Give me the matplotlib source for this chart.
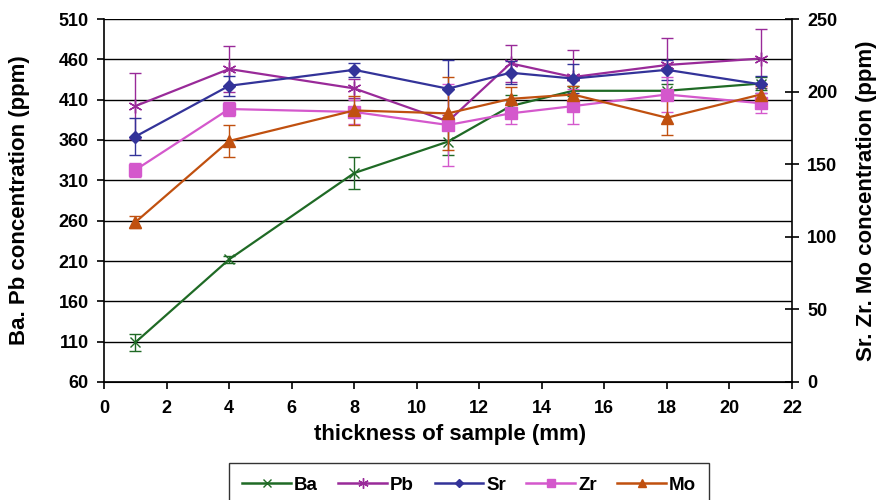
import matplotlib.pyplot as plt
from matplotlib.lines import Line2D

plt.rcParams['font.family'] = ['Liberation Sans', 'DejaVu Sans']
plt.rcParams['font.weight'] = 'bold'

# thickness of sample (mm)
thickness = [1, 4, 8, 11, 13, 15, 18, 21]

# left axis (Ba, Pb) in ppm
ba = [109, 212, 319, 358, 402, 421, 421, 430]
ba_err = [11, 4, 20, 16, 14, 6, 8, 8]
pb = [402, 448, 424, 383, 455, 438, 453, 461]
pb_err = [41, 29, 12, 8, 23, 34, 33, 36]

# right axis (Sr, Zr, Mo) in ppm
sr = [169, 204, 215, 202, 213, 209, 215, 205]
sr_err = [13, 7, 5, 20, 8, 10, 7, 6]
zr = [146, 188, 186, 177, 185, 190, 198, 192]
zr_err = [5, 5, 8, 28, 7, 12, 12, 7]
mo = [110, 166, 187, 185, 195, 198, 182, 198]
mo_err = [4, 11, 10, 25, 8, 6, 12, 6]

names = ['Ba', 'Pb', 'Sr', 'Zr', 'Mo']
colors = ['#1f6a25', '#992a99', '#333399', '#d458cc', '#c0500f']
markers = ['x', (6, 2, 0), 'D', 's', '^']
msizes = [7, 10, 6, 8, 8]

fig = plt.figure(figsize=(8.77, 5), dpi=100)
ax = fig.add_axes([0.1186, 0.236, 0.7844, 0.726])
ax2 = ax.twinx()

series = [(ax, ba, ba_err), (ax, pb, pb_err), (ax2, sr, sr_err), (ax2, zr, zr_err), (ax2, mo, mo_err)]
for (a, vals, err), c, m, ms in zip(series, colors, markers, msizes):
    a.errorbar(thickness, vals, yerr=err, color=c, marker=m, markersize=ms,
               elinewidth=1, capsize=4, capthick=1, linewidth=1.6)

ax.set_xlim(0, 22)
ax.set_ylim(60, 510)
ax2.set_ylim(0, 250)
ax.set_xticks(range(0, 23, 2))
ax.set_yticks(range(60, 511, 50))
ax2.set_yticks(range(0, 251, 50))
ax.grid(axis='y', color='black', linewidth=1)
ax.set_axisbelow(True)

for a in (ax, ax2):
    a.spines['top'].set_visible(False)
    a.tick_params(labelsize=13, width=1.2, length=5, colors='black')
ax.spines['right'].set_visible(False)
ax2.spines['left'].set_visible(False)
ax2.spines['right'].set_linewidth(1.2)
ax.spines['left'].set_linewidth(1.2)
ax.spines['bottom'].set_linewidth(1.2)
ax.tick_params(axis='x', pad=8)
ax.tick_params(axis='y', pad=6)
ax2.tick_params(axis='y', direction='inout', length=10, pad=6)

ax.set_xlabel('thickness of sample (mm)', fontsize=16, fontweight='bold')
ax.set_ylabel('Ba. Pb concentration (ppm)', fontsize=16, fontweight='bold')
ax2.set_ylabel('Sr. Zr. Mo concentration (ppm)', fontsize=16, fontweight='bold')
ax.xaxis.set_label_coords(0.503, -0.115)
ax.yaxis.set_label_coords(-0.108, 0.5)
ax2.yaxis.set_label_coords(1.093, 0.5)

handles = [Line2D([], [], color=c, marker=m, markersize=ms * 0.75, linewidth=1.8)
           for c, m, ms in zip(colors, markers, msizes)]
leg = fig.legend(handles, names, loc='upper center', bbox_to_anchor=(0.535, 0.092), ncol=5,
                 fontsize=13.5, frameon=True, fancybox=False, edgecolor='black',
                 handlelength=2.6, columnspacing=1.1, handletextpad=0.15,
                 borderpad=0.7)
leg.get_frame().set_linewidth(1)

fig.savefig('out.png', dpi=100)
